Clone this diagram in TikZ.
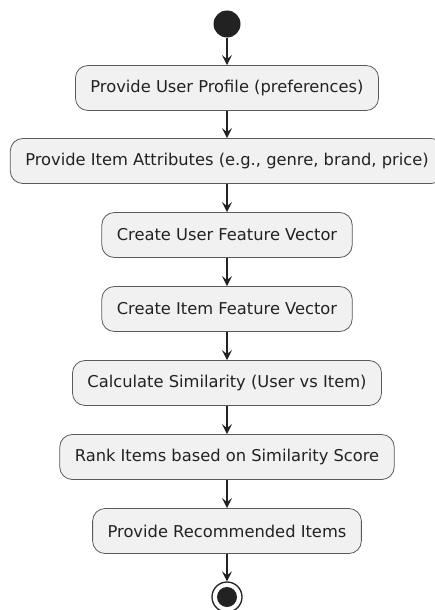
\documentclass[tikz,border=0pt]{standalone}
\usepackage{fontspec}
\setmainfont{DejaVu Sans}
\usetikzlibrary{arrows.meta}
\definecolor{boxfill}{HTML}{F1F1F1}
\definecolor{boxline}{HTML}{5A5A5A}
\definecolor{ink}{HTML}{222222}
\tikzset{
  act/.style={draw=boxline, line width=0.8pt, fill=boxfill, rounded corners=12.5pt,
    minimum height=45pt, inner xsep=15pt, font=\fontsize{16.3}{18}\selectfont, text=ink},
  flow/.style={draw=ink, line width=1.2pt, -{Stealth[length=10pt,width=10pt,inset=4pt]}},
}
\begin{document}
\begin{tikzpicture}[x=1pt,y=-1pt]
\useasboundingbox (0,0) rectangle (434,610);
\node[circle, fill=ink, minimum size=27pt, inner sep=0] (start) at (227,24) {};
\node[act] (a1) at (227,88) {Provide User Profile (preferences)};
\node[act] (a2) at (227,161) {Provide Item Attributes (e.g., genre, brand, price)};
\node[act] (a3) at (227,235) {Create User Feature Vector};
\node[act] (a4) at (227,309) {Create Item Feature Vector};
\node[act] (a5) at (227,383) {Calculate Similarity (User vs Item)};
\node[act] (a6) at (227,457) {Rank Items based on Similarity Score};
\node[act] (a7) at (227,531) {Provide Recommended Items};
\node[circle, draw=ink, line width=1.3pt, fill=white, minimum size=30pt, inner sep=0] (stop) at (227,597) {};
\node[circle, fill=ink, minimum size=20pt, inner sep=0] (stopin) at (stop.center) {};
\draw[flow] (start) -- (a1);
\draw[flow] (a1) -- (a2);
\draw[flow] (a2) -- (a3);
\draw[flow] (a3) -- (a4);
\draw[flow] (a4) -- (a5);
\draw[flow] (a5) -- (a6);
\draw[flow] (a6) -- (a7);
\draw[flow] (a7) -- (stop);
\end{tikzpicture}
\end{document}
